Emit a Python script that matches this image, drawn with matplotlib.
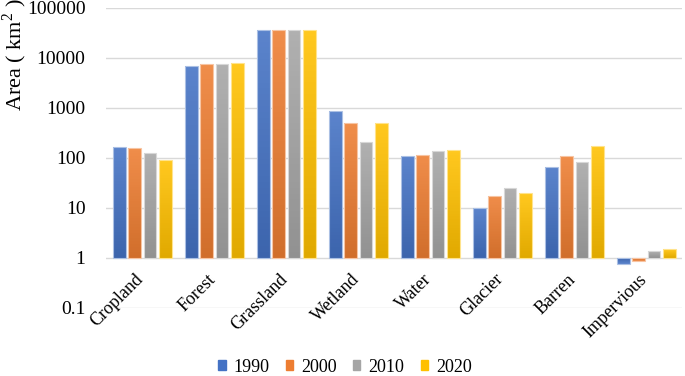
import numpy as np
import matplotlib
matplotlib.use('Agg')
import matplotlib.pyplot as plt
import matplotlib.patches as mpatches
from matplotlib.colors import LinearSegmentedColormap, to_rgb

plt.rcParams['font.family'] = ['Liberation Serif', 'DejaVu Serif']
plt.rcParams['mathtext.fontset'] = 'custom'
plt.rcParams['mathtext.rm'] = 'Liberation Serif'

# ── data ──────────────────────────────────────────────────────────────────────
categories = ['Cropland', 'Forest', 'Grassland', 'Wetland', 'Water',
              'Glacier', 'Barren', 'Impervious']
years = ['1990', '2000', '2010', '2020']
area_1990 = [166, 6900, 36500, 890, 110, 9.8, 65, 0.77]
area_2000 = [160, 7500, 37000, 495, 117, 17.7, 110, 0.87]
area_2010 = [126, 7700, 37000, 213, 138, 25.5, 83, 1.38]
area_2020 = [91, 8000, 36800, 510, 145, 19.7, 177, 1.49]
series = [area_1990, area_2000, area_2010, area_2020]
yticks = [0.1, 1, 10, 100, 1000, 10000, 100000]

colors = ['#4472C4', '#ED7D31', '#A5A5A5', '#FFC000']


def shade(c, f):
    r = np.array(to_rgb(c))
    if f > 0:
        return tuple(r + (1 - r) * f)
    return tuple(r * (1 + f))


# ── figure ────────────────────────────────────────────────────────────────────
fig = plt.figure(figsize=(6.85, 3.76), dpi=100)
ax = fig.add_axes([106.4 / 685, 1 - 308 / 376, 576 / 685, 300 / 376])
ax.set_yscale('log')
ax.set_ylim(0.1, 100000)
ax.set_xlim(-0.5, len(categories) - 0.5)

x = np.arange(len(categories))
slot = 0.212
width = 0.176
for k, (vals, col) in enumerate(zip(series, colors)):
    xs = x + (k - 1.5) * slot
    heights = np.array(vals) - 1
    ax.bar(xs, heights, width=width, bottom=1, color=col, zorder=2)
    cmap = LinearSegmentedColormap.from_list('g', [shade(col, -0.12), shade(col, 0.12)])
    for xi, v in zip(xs, vals):
        lo, hi = min(1, v), max(1, v)
        Y = np.logspace(np.log10(lo), np.log10(hi), 40)
        X = np.array([xi - width / 2, xi + width / 2])
        C = np.linspace(0, 1, 39)[:, None]
        if v < 1:
            C = C[::-1]
        ax.pcolormesh(X, Y, C, cmap=cmap, vmin=0, vmax=1, zorder=2.5,
                      shading='flat')
    ax.bar(xs, heights, width=width, bottom=1, facecolor='none',
           edgecolor=shade(col, 0.55), linewidth=0.8, zorder=3)

# ── axes styling ──────────────────────────────────────────────────────────────
for s in ax.spines.values():
    s.set_visible(False)
ax.set_yticks(yticks)
ax.set_yticklabels([f'{t:g}' if t < 1 else f'{int(t)}' for t in yticks])
ax.minorticks_off()
ax.tick_params(axis='y', length=0, pad=15, labelsize=14)
ax.set_xticks([])
ax.yaxis.grid(True, color='#D9D9D9', linewidth=1)
ax.set_axisbelow(True)

for i, name in enumerate(categories):
    ax.text(i + 0.06, 0.56, name, rotation=45, ha='right', va='top',
            fontsize=13, zorder=4)

fig.text(15 / 685, 1 - 55 / 376, 'Area ( km$^2$ )', rotation=90,
         ha='center', va='center', fontsize=16)

handles = [mpatches.Patch(color=c, label=y) for c, y in zip(colors, years)]
fig.legend(handles=handles, loc='center', bbox_to_anchor=(345 / 685, 1 - 367 / 376),
           ncol=4, frameon=False, fontsize=13, handlelength=0.4, handleheight=0.4,
           handletextpad=0.45, columnspacing=0.9)

fig.savefig('out.png', dpi=100)
